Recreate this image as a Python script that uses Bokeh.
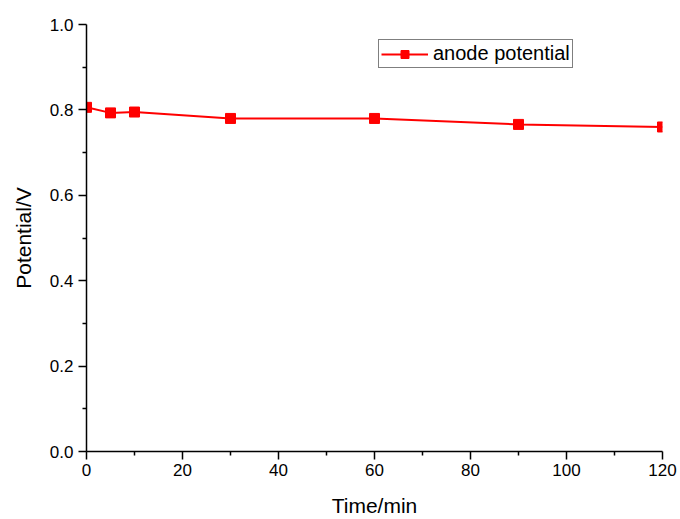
from bokeh.plotting import figure
from bokeh.models import Range1d, FixedTicker, PrintfTickFormatter, Legend, LegendItem
from bokeh.embed import file_html
from bokeh.resources import INLINE

time_min = [0, 5, 10, 30, 60, 90, 120]
potential = [0.806, 0.793, 0.795, 0.780, 0.780, 0.766, 0.760]
x_ticks = [0, 20, 40, 60, 80, 100, 120]
y_ticks = [0.0, 0.2, 0.4, 0.6, 0.8, 1.0]
series_name = "anode potential"

FONT = "Liberation Sans"

p = figure(width=680, height=519, output_backend="svg", toolbar_location=None,
           x_range=Range1d(0, 120), y_range=Range1d(0, 1.0),
           min_border_left=86, min_border_right=18, min_border_top=24, min_border_bottom=66)
p.outline_line_color = None
p.grid.visible = False
p.background_fill_color = "white"
p.border_fill_color = "white"

ln = p.line(time_min, potential, line_color="#ff0000", line_width=2)
sq = p.scatter(time_min, potential, marker="square", size=10,
               fill_color="#ff0000", line_color="#ff0000")

for ax in (p.xaxis[0], p.yaxis[0]):
    ax.axis_line_color = "black"
    ax.axis_line_width = 1.5
    ax.major_tick_line_color = "black"
    ax.major_tick_line_width = 1.5
    ax.minor_tick_line_color = "black"
    ax.minor_tick_line_width = 1.5
    ax.major_tick_in = 0
    ax.major_tick_out = 8
    ax.minor_tick_in = 0
    ax.minor_tick_out = 4
    ax.major_label_text_font = FONT
    ax.major_label_text_font_size = "17px"
    ax.major_label_text_color = "black"
    ax.axis_label_text_font = FONT
    ax.axis_label_text_font_size = "21px"
    ax.axis_label_text_font_style = "normal"
    ax.axis_label_text_color = "black"

p.xaxis[0].ticker = FixedTicker(ticks=x_ticks, minor_ticks=[10, 30, 50, 70, 90, 110])
p.yaxis[0].ticker = FixedTicker(ticks=y_ticks, minor_ticks=[0.1, 0.3, 0.5, 0.7, 0.9])
p.yaxis[0].formatter = PrintfTickFormatter(format="%.1f")
p.xaxis[0].axis_label = "Time/min"
p.yaxis[0].axis_label = "Potential/V"
p.xaxis[0].major_label_standoff = 4
p.yaxis[0].major_label_standoff = 5
p.xaxis[0].axis_label_standoff = 15
p.yaxis[0].axis_label_standoff = 12

legend = Legend(items=[LegendItem(label=series_name, renderers=[ln, sq])],
                location=(292, 383), orientation="vertical",
                border_line_color="black", border_line_width=1,
                background_fill_alpha=1.0,
                label_text_font=FONT, label_text_font_size="20px",
                label_text_color="black",
                glyph_width=47, glyph_height=20, label_height=20,
                padding=2, margin=0, spacing=0, label_standoff=5)
p.add_layout(legend, "center")

open("out.html", "w").write(file_html(p, INLINE))
